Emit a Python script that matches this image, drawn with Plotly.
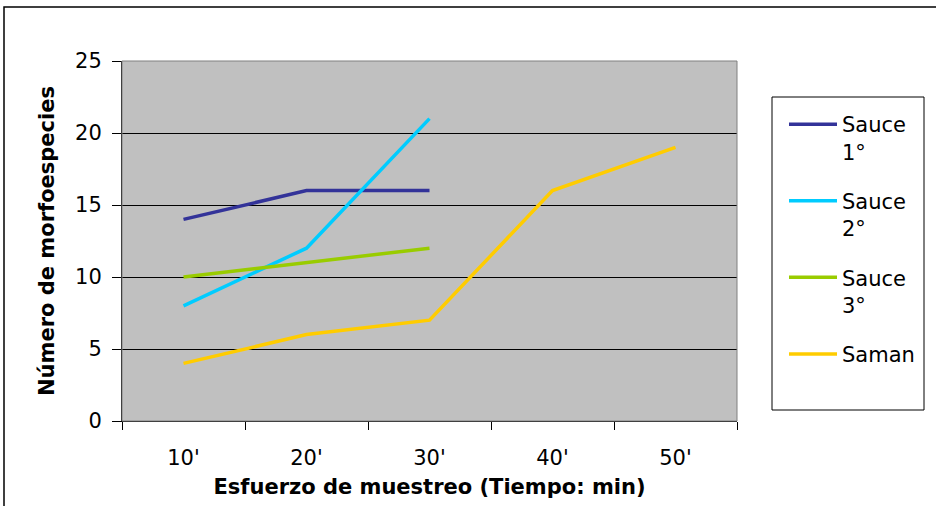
import plotly.graph_objects as go

categories = ["10'", "20'", "30'", "40'", "50'"]
sauce1 = [14, 16, 16]
sauce2 = [8, 12, 21]
sauce3 = [10, 11, 12]
saman = [4, 6, 7, 16, 19]
series_names = ["Sauce<br>1°", "Sauce<br>2°", "Sauce<br>3°", "Saman"]
series_values = [sauce1, sauce2, sauce3, saman]
colors = ["#333399", "#00CCFF", "#99CC00", "#FFCC00"]
y_ticks = [0, 5, 10, 15, 20, 25]

fig = go.Figure()
for i, (name, vals, col) in enumerate(zip(series_names, series_values, colors)):
    fig.add_trace(go.Scatter(
        x=categories[:len(vals)], y=vals, name=name, mode="lines",
        line=dict(color=col, width=3.5), legendgroup=f"g{i}",
    ))

W, H = 936, 506
L, R, T, B = 122, 936 - 737, 61, 506 - 421
pw = W - L - R
ph = H - T - B

def px(x):
    return (x - L) / pw

def py(y):
    return (H - B - y) / ph

fig.update_layout(
    width=W, height=H,
    margin=dict(l=L, r=R, t=T, b=B),
    paper_bgcolor="white",
    plot_bgcolor="#C0C0C0",
    font=dict(family="DejaVu Sans", size=21, color="black"),
    showlegend=True,
    legend=dict(
        x=px(784), y=py(104), xanchor="left", yanchor="top",
        bgcolor="rgba(0,0,0,0)", borderwidth=0,
        font=dict(size=21, family="DejaVu Sans"),
        valign="top", tracegroupgap=19, itemwidth=48,
    ),
    xaxis=dict(
        type="category", categoryorder="array", categoryarray=categories,
        range=[-0.5, 4.5], tickson="boundaries", ticks="outside", ticklen=8,
        tickcolor="black", showline=True, linecolor="black", linewidth=1,
        showgrid=False, zeroline=False, ticklabelstandoff=18,
        tickfont=dict(size=21),
        title=dict(text="Esfuerzo de muestreo (Tiempo: min)", standoff=10,
                   font=dict(size=21, family="DejaVu Sans", weight="bold")),
    ),
    yaxis=dict(
        range=[0, 25], tickvals=y_ticks, ticks="outside", ticklen=9,
        tickcolor="black", showline=True, linecolor="black", linewidth=1,
        showgrid=True, gridcolor="black", gridwidth=1, zeroline=False,
        ticklabelstandoff=6, tickfont=dict(size=21),
        title=dict(text="Número de morfoespecies", standoff=14,
                   font=dict(size=21, family="DejaVu Sans", weight="bold")),
    ),
    shapes=[
        dict(type="rect", xref="paper", yref="paper", x0=0, x1=1, y0=0, y1=1,
             line=dict(color="#808080", width=1), fillcolor="rgba(0,0,0,0)"),
        dict(type="rect", xref="paper", yref="paper",
             x0=px(4), x1=px(980), y0=py(560), y1=py(7),
             line=dict(color="black", width=1.5), fillcolor="rgba(0,0,0,0)"),
        dict(type="rect", xref="paper", yref="paper",
             x0=px(772), x1=px(924), y0=py(410), y1=py(97),
             line=dict(color="black", width=1), fillcolor="rgba(0,0,0,0)"),
    ],
)

fig.write_html(
    "out.html",
    config={"displayModeBar": False},
    post_script="document.body.style.margin='0px';document.body.style.overflow='hidden';",
)
